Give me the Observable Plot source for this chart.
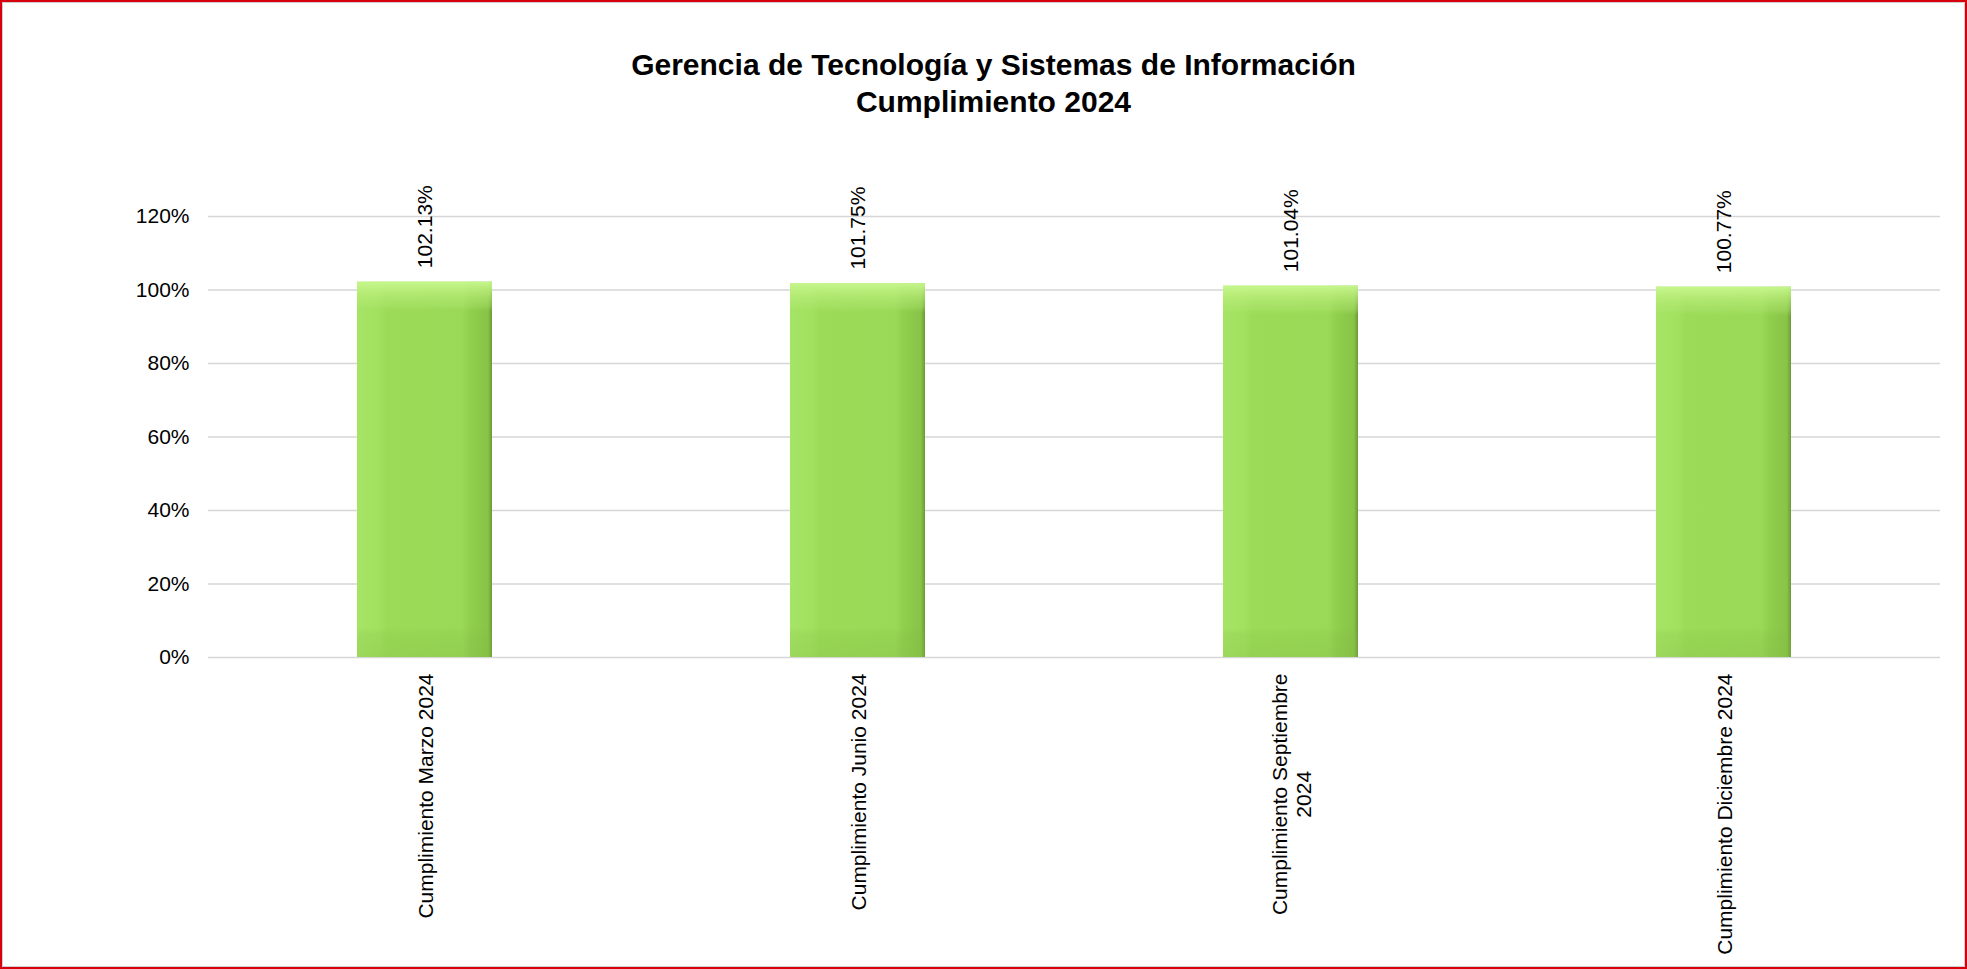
<!DOCTYPE html>
<html>
<head>
<meta charset="utf-8">
<script src="https://cdn.jsdelivr.net/npm/d3@7"></script>
<script src="https://cdn.jsdelivr.net/npm/@observablehq/plot@0.6"></script>
<style>
  html, body { margin: 0; padding: 0; background: #fff; }
  #frame {
    box-sizing: border-box; width: 1967px; height: 969px;
    border: 2px solid #d9000d; box-shadow: inset 0 0 0 1px #cfcfcf;
    background: #fff; overflow: hidden; position: relative;
    font-family: "Liberation Sans", Arial, sans-serif;
  }
  #title {
    height: 118px; box-sizing: border-box; padding-top: 44px; padding-left: 20px;
    text-align: center; font-weight: bold; font-size: 30px; line-height: 37px; color: #000;
  }
  #chart svg { display: block; }
</style>
</head>
<body>
<svg width="0" height="0" style="position:absolute">
  <defs>
    <linearGradient id="barH" x1="0" y1="0" x2="1" y2="0">
      <stop offset="0" stop-color="#a6e466"/>
      <stop offset="0.16" stop-color="#a2e15f"/>
      <stop offset="0.22" stop-color="#9cdb58"/>
      <stop offset="0.78" stop-color="#9ad957"/>
      <stop offset="0.84" stop-color="#90ce4d"/>
      <stop offset="0.97" stop-color="#88c447"/>
      <stop offset="1" stop-color="#6a9a36"/>
    </linearGradient>
    <linearGradient id="barV" x1="0" y1="0" x2="0" y2="1">
      <stop offset="0" stop-color="#c8f890" stop-opacity="0.95"/>
      <stop offset="0.03" stop-color="#bdf07e" stop-opacity="0.7"/>
      <stop offset="0.065" stop-color="#b0e872" stop-opacity="0.35"/>
      <stop offset="0.08" stop-color="#9cdb58" stop-opacity="0"/>
      <stop offset="0.92" stop-color="#7fb842" stop-opacity="0"/>
      <stop offset="0.94" stop-color="#7fb842" stop-opacity="0.18"/>
      <stop offset="1" stop-color="#7fb842" stop-opacity="0.28"/>
    </linearGradient>
  </defs>
</svg>
<div id="frame">
  <div id="title">Gerencia de Tecnología y Sistemas de Información<br>Cumplimiento 2024</div>
  <div id="chart"></div>
</div>
<script>
const categories = [
  "Cumplimiento Marzo 2024",
  "Cumplimiento Junio 2024",
  "Cumplimiento Septiembre\n2024",
  "Cumplimiento Diciembre 2024"
];
const values = [1.0213, 1.0175, 1.0104, 1.0077];
const yTicks = [0, 0.2, 0.4, 0.6, 0.8, 1.0, 1.2];

const data = categories.map((c, i) => ({cat: c, value: values[i]}));
const pct2 = d3.format(".2%");
const pct0 = d3.format(".0%");

const FONT = '"Liberation Sans", Arial, sans-serif';
const ctx = document.createElement("canvas").getContext("2d");
ctx.font = `21px ${FONT}`;
const textWidth = s => Math.max(...s.split("\n").map(l => ctx.measureText(l).width));

const labelMarks = data.map(d => Plot.text([d], {
  x: "cat", y: () => 0, text: "cat",
  rotate: -90, textAnchor: "middle", lineAnchor: "middle", lineHeight: 1.15,
  dy: 16 + textWidth(d.cat) / 2, fontSize: 21, fill: "#000"
}));

const plot = Plot.plot({
  width: 1963,
  height: 847,
  marginTop: 96,
  marginBottom: 310,
  marginLeft: 206,
  marginRight: 25,
  style: {fontFamily: FONT, background: "transparent", overflow: "visible"},
  x: {domain: categories, paddingInner: 0.688, paddingOuter: 0.344, axis: null},
  y: {domain: [0, 1.2], axis: null},
  marks: [
    Plot.ruleY(yTicks, {stroke: "#d6d6d6", strokeWidth: 1.3}),
    Plot.axisY(yTicks, {tickSize: 0, tickPadding: 19, tickFormat: pct0, fontSize: 21, fill: "#000", label: null}),
    Plot.barY(data, {x: "cat", y: "value", fill: "url(#barH)"}),
    Plot.barY(data, {x: "cat", y: "value", fill: "url(#barV)"}),
    Plot.text(data, {
      x: "cat", y: "value", text: d => pct2(d.value),
      rotate: -90, textAnchor: "start", lineAnchor: "middle",
      dy: -14, fontSize: 21, fill: "#000"
    }),
    ...labelMarks
  ]
});
document.getElementById("chart").appendChild(plot);
</script>
</body>
</html>
